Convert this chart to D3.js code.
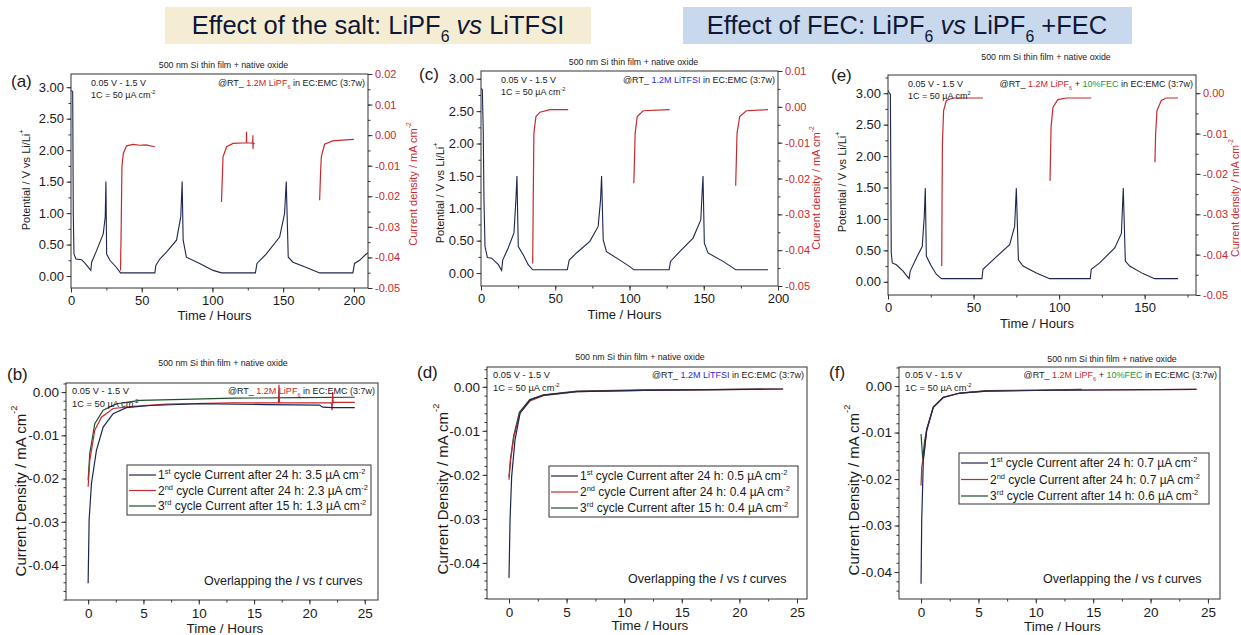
<!DOCTYPE html>
<html>
<head>
<meta charset="utf-8">
<script src="https://cdn.jsdelivr.net/npm/d3@7"></script>
<style>
  body { margin: 0; background: #fff; }
  text { font-family: Arial, "Liberation Sans", sans-serif; }
</style>
</head>
<body>
<div id="vis"></div>
<script>
// ---- data ----
// potential (V vs Li/Li+) against time (h), top panels
const potA = [[0,2.95],[1.2,2.93],[1.6,1.0],[2.1,0.35],[3.5,0.27],[7.5,0.26],[10,0.2],[14,0.09],[14.6,0.22],[18,0.4],[22.8,0.67],[24.2,0.94],[24.7,1.5],[25.2,0.35],[27.5,0.25],[32,0.14],[35,0.05],[59.3,0.05],[60,0.17],[62.8,0.27],[67.5,0.38],[74.6,0.57],[77.6,0.94],[78.6,1.5],[79.3,0.57],[81.6,0.3],[91,0.2],[100.5,0.09],[106.4,0.05],[130.4,0.05],[131.5,0.2],[138,0.35],[147.5,0.62],[151,0.99],[152.2,1.5],[153.6,0.3],[157,0.22],[166,0.14],[175.8,0.05],[199.3,0.05],[200.5,0.2],[204,0.25],[208.7,0.35],[211,0.38]];
const potC = [[0,2.85],[0.9,2.83],[1.5,2.2],[2,1.13],[2.7,0.41],[4.3,0.24],[7.2,0.23],[11.7,0.13],[13.9,0.04],[14.6,0.2],[18.4,0.39],[22.2,0.62],[23.5,1.13],[24.2,1.5],[25.1,0.41],[28.5,0.28],[31.8,0.13],[34.8,0.05],[58.1,0.05],[59.4,0.2],[64.3,0.31],[73.3,0.49],[78.9,0.72],[80.5,1.13],[81.2,1.5],[82.3,0.51],[84.5,0.33],[93.5,0.2],[100.2,0.1],[102.9,0.05],[126.7,0.05],[127.6,0.18],[133.8,0.33],[142.8,0.54],[148,0.82],[148.9,1.24],[149.5,1.5],[150.4,0.46],[152.9,0.31],[163,0.18],[169.7,0.08],[171.5,0.05],[193.3,0.05]];
const potE = [[0,3.04],[1.4,2.98],[1.9,0.46],[2.5,0.3],[4.9,0.27],[8.8,0.17],[11.1,0.09],[12.3,0.05],[13,0.17],[16.6,0.38],[20,0.56],[21.2,1.04],[21.8,1.49],[22.4,0.41],[25.3,0.25],[28.2,0.12],[31.2,0.05],[54.9,0.05],[55.5,0.2],[61.4,0.35],[71.1,0.59],[74,0.88],[75,1.49],[76.2,0.35],[78.9,0.25],[86.7,0.14],[94.5,0.05],[118.2,0.05],[118.8,0.2],[123.7,0.3],[132.5,0.54],[136.4,0.77],[137.5,1.49],[138.7,0.33],[141.2,0.25],[149,0.13],[155.8,0.05],[169.5,0.05]];

// current density (mA cm-2) during the potentiostatic holds, top panels
const curA1 = [[35,-0.0443],[35.5,-0.03],[36,-0.0104],[37,-0.006],[39.3,-0.0035],[44,-0.003],[48.7,-0.0033],[53,-0.0032],[59.3,-0.0038]];
const curA2 = [[106.4,-0.0219],[107,-0.014],[107.5,-0.0071],[110,-0.0038],[114.6,-0.0027],[124,-0.0025],[124.1,0.0011],[124.2,-0.0025],[128.5,-0.0026],[128.6,0.0],[128.7,-0.0045],[128.8,-0.0026],[129.9,-0.0028]];
const curA3 = [[175.8,-0.0213],[176.5,-0.012],[177,-0.007],[179.3,-0.003],[185,-0.0019],[192,-0.0016],[200,-0.0014]];
const curC1 = [[34.8,-0.0437],[35.2,-0.025],[35.6,-0.0074],[37,-0.0027],[39.7,-0.0015],[46.4,-0.0008],[58.7,-0.0008]];
const curC2 = [[102.9,-0.0213],[103.4,-0.014],[103.8,-0.0074],[105.2,-0.0027],[109.2,-0.0011],[127,-0.0008]];
const curC3 = [[171.5,-0.022],[172,-0.014],[172.4,-0.0074],[174.2,-0.0027],[178.7,-0.0011],[193.3,-0.0008]];
const curE1 = [[31.4,-0.0428],[31.6,-0.025],[31.8,-0.0126],[32.5,-0.0043],[34.1,-0.0018],[38,-0.0012],[55.5,-0.0012]];
const curE2 = [[94.7,-0.0217],[95,-0.015],[95.3,-0.0084],[96.4,-0.0035],[99.3,-0.0016],[104.2,-0.0012],[118.8,-0.0012]];
const curE3 = [[156,-0.0171],[156.4,-0.0101],[157.2,-0.0043],[159.7,-0.0018],[162.7,-0.0012],[169.5,-0.0012]];

// overlapped I vs t curves, bottom panels (1st, 2nd, 3rd cycle)
const curB1 = [[0,-0.0442],[0.09,-0.0296],[0.3,-0.0212],[0.75,-0.0135],[1.36,-0.0081],[2.26,-0.005],[3.46,-0.0036],[5.6,-0.0031],[10.1,-0.0027],[16.1,-0.0029],[20.9,-0.003],[21.2,-0.0035],[22.1,-0.0036],[24.1,-0.0036]];
const curB2 = [[0,-0.0219],[0.15,-0.0158],[0.6,-0.0088],[1.2,-0.0058],[2.26,-0.0038],[4.07,-0.0033],[7.1,-0.0028],[13.1,-0.0025],[17.2,-0.0025],[17.25,0.0017],[17.3,-0.0025],[19.1,-0.0025],[22.0,-0.0025],[22.05,-0.0042],[22.1,0.0],[22.15,-0.0024],[24.1,-0.0024]];
const curB3 = [[0,-0.0204],[0.15,-0.0142],[0.6,-0.0073],[1.36,-0.0042],[2.56,-0.0027],[4.67,-0.0019],[8.6,-0.0017],[13.1,-0.0014],[19.1,-0.0013],[24.1,-0.0012]];
const curD1 = [[0,-0.0434],[0.09,-0.0302],[0.23,-0.0204],[0.52,-0.0121],[0.96,-0.006],[1.83,-0.003],[2.98,-0.0019],[5.9,-0.0011],[11.7,-0.0008],[23.8,-0.0005]];
const curD2 = [[0,-0.0211],[0.14,-0.0166],[0.43,-0.0113],[0.96,-0.0059],[1.83,-0.0032],[2.98,-0.002],[5.9,-0.0011],[11.7,-0.0008],[23.8,-0.0005]];
const curD3 = [[0,-0.0205],[0.12,-0.0165],[0.4,-0.0112],[0.9,-0.0058],[1.8,-0.0029],[3.0,-0.0018],[5.9,-0.001],[11.7,-0.0007],[22,-0.0006]];
const curF1 = [[0,-0.0425],[0.06,-0.0289],[0.2,-0.016],[0.49,-0.0095],[1.07,-0.0045],[1.94,-0.0024],[3.4,-0.0015],[5.7,-0.0011],[11.5,-0.0009],[24,-0.0007]];
const curF2 = [[0,-0.0214],[0.06,-0.0174],[0.26,-0.0146],[0.49,-0.0096],[1.07,-0.0046],[1.94,-0.0025],[3.4,-0.0015],[5.7,-0.0011],[11.5,-0.0009],[24,-0.0007]];
const curF3 = [[0,-0.0103],[0.15,-0.0158],[0.3,-0.012],[0.5,-0.0092],[1.07,-0.0045],[1.94,-0.0024],[3.4,-0.0015],[5.7,-0.001],[11.5,-0.0008],[14,-0.0007]];

// legend values: hours and residual current (µA cm-2)
const cycleNames = ['1', '2', '3'];
const cycleSup = ['st', 'nd', 'rd'];
const hoursB = ['24', '24', '15'], valuesB = ['3.5', '2.3', '1.3'];
const hoursD = ['24', '24', '15'], valuesD = ['0.5', '0.4', '0.4'];
const hoursF = ['24', '24', '14'], valuesF = ['0.7', '0.7', '0.6'];

// tick labels
const potTicks = [0, 0.5, 1, 1.5, 2, 2.5, 3];
const rightTicksA = [0.02, 0.01, 0, -0.01, -0.02, -0.03, -0.04, -0.05];
const rightTicksC = [0.01, 0, -0.01, -0.02, -0.03, -0.04, -0.05];
const rightTicksE = [0, -0.01, -0.02, -0.03, -0.04, -0.05];
const timeTicksAC = [0, 50, 100, 150, 200];
const timeTicksE = [0, 50, 100, 150];
const timeTicksBot = [0, 5, 10, 15, 20, 25];
const curTicksBot = [0, -0.01, -0.02, -0.03, -0.04];

// ---- drawing ----
const RED = '#c8282e', BLUE = '#2b2bd6', GREEN = '#23963a';
const NAVY = '#1e2650', LINE_RED = '#c42a2f', LINE_GREEN = '#1f4f2b';

let svg = d3.select('#vis').append('svg')
  .attr('width', 1241).attr('height', 635)
  .style('display', 'block');

// text with tspans for sub/superscripts, colours, italics
function rich(t, parts, fs) {
  let shift = 0;
  parts.forEach(p => {
    if (typeof p === 'string') p = {t: p};
    let want = p.sub ? fs * 0.3 : p.sup ? -fs * 0.42 : 0;
    let ts = t.append('tspan').text(p.t).attr('dy', want - shift);
    shift = want;
    if (p.sub || p.sup) ts.attr('font-size', fs * 0.62);
    if (p.fill) ts.attr('fill', p.fill);
    if (p.it) ts.attr('font-style', 'italic');
  });
  return t;
}

function label(x, y, parts, fs, opts) {
  opts = opts || {};
  let t = svg.append('text').attr('x', x).attr('y', y)
    .attr('font-size', fs).attr('fill', opts.fill || '#1a1a1a');
  if (opts.anchor) t.attr('text-anchor', opts.anchor);
  if (opts.rot) t.attr('transform', `rotate(-90,${x},${y})`)
    .attr('text-anchor', 'middle').attr('dominant-baseline', 'central');
  return rich(t, parts, fs);
}

function fmt2(v) { return (Math.abs(v) < 1e-9 ? 0 : v).toFixed(2); }

function drawAxis(orient, scale, major, minor, format, pos, fs, color) {
  let mk = {left: d3.axisLeft, right: d3.axisRight, bottom: d3.axisBottom}[orient];
  let tr = orient === 'bottom' ? `translate(0,${pos})` : `translate(${pos},0)`;
  let gMin = svg.append('g').attr('transform', tr)
    .call(mk(scale).tickValues(minor).tickFormat('').tickSize(2.5));
  gMin.select('.domain').remove();
  gMin.selectAll('line').attr('stroke', '#333');
  let g = svg.append('g').attr('transform', tr)
    .call(mk(scale).tickValues(major).tickFormat(format).tickSizeInner(4.5).tickSizeOuter(0).tickPadding(orient === 'bottom' ? 3.5 : 2.5));
  g.select('.domain').remove();
  g.selectAll('line').attr('stroke', '#333');
  g.selectAll('text').attr('font-size', fs)
    .attr('font-family', 'Arial, "Liberation Sans", sans-serif').attr('fill', color || '#1a1a1a');
}

function rangeIn(dom, step) {
  let lo = Math.min(dom[0], dom[1]), hi = Math.max(dom[0], dom[1]);
  return d3.range(Math.ceil(lo / step - 1e-6) * step, hi + 1e-9, step);
}

function frame(o, id) {
  svg.append('clipPath').attr('id', id).append('rect')
    .attr('x', o.l).attr('y', o.t).attr('width', o.r - o.l).attr('height', o.b - o.t);
}

function box(o) {
  svg.append('rect').attr('x', o.l).attr('y', o.t).attr('width', o.r - o.l).attr('height', o.b - o.t)
    .attr('fill', 'none').attr('stroke', '#333').attr('stroke-width', 1);
}

// top panels: potential (left axis) + current density during holds (right axis)
function topPanel(o) {
  let x = d3.scaleLinear().domain(o.xDom).range([o.l, o.r]);
  let yL = d3.scaleLinear().domain(o.yL).range([o.b, o.t]);
  let yR = d3.scaleLinear().domain(o.yR).range([o.b, o.t]);
  frame(o, 'clip' + o.id);

  svg.append('path').datum(o.pot)
    .attr('clip-path', `url(#clip${o.id})`)
    .attr('d', d3.line().x(d => x(d[0])).y(d => yL(d[1])))
    .attr('fill', 'none').attr('stroke', NAVY).attr('stroke-width', 1.1);

  o.cur.forEach(seg => {
    svg.append('path').datum(seg)
      .attr('clip-path', `url(#clip${o.id})`)
      .attr('d', d3.line().x(d => x(d[0])).y(d => yR(d[1])))
      .attr('fill', 'none').attr('stroke', LINE_RED).attr('stroke-width', 1.2);
  });

  box(o);
  drawAxis('left', yL, potTicks, rangeIn(o.yL, 0.25), fmt2, o.l, 13);
  drawAxis('right', yR, o.rTicks, rangeIn(o.yR, 0.005), fmt2, o.r, 11, RED);
  drawAxis('bottom', x, o.xTicks, rangeIn(o.xDom, 25), d3.format('d'), o.b, 13);

  label(o.l + (o.r - o.l) / 2 + 4, o.titleY, ['500 nm Si thin film + native oxide'], 8.8, {anchor: 'middle'});
  label(o.panX, o.panY, [o.pan], 17);
  label(o.l + 20, o.t + 12, ['0.05 V - 1.5 V'], 9);
  label(o.l + 20, o.t + 24, ['1C = 50 \u00b5A cm', {t: o.cm, sup: true}], 9);
  label(o.r - 3, o.t + 12, o.rt, 9, {anchor: 'end'});
  label(o.ylX, o.ylY, ['Potential / V vs Li/Li', {t: '+', sup: true}], 11, {rot: true});
  label(o.yrX, o.yrY, ['Current density / mA cm', {t: '-2', sup: true}], o.yrFs || 11, {rot: true, fill: RED});
  label((o.l + o.r) / 2 - 5, o.xlY, ['Time / Hours'], 13, {anchor: 'middle'});
}

// bottom panels: the three holds overlapped
function botPanel(o) {
  let x = d3.scaleLinear().domain(o.xDom).range([o.l, o.r]);
  let y = d3.scaleLinear().domain(o.yDom).range([o.b, o.t]);
  frame(o, 'clip' + o.id);
  let colors = [NAVY, LINE_RED, LINE_GREEN];
  // draw 3rd, 2nd, 1st so the navy trace sits on top at the steep start
  [2, 1, 0].forEach(k => {
    svg.append('path').datum(o.series[k])
      .attr('clip-path', `url(#clip${o.id})`)
      .attr('d', d3.line().x(d => x(d[0])).y(d => y(d[1])))
      .attr('fill', 'none').attr('stroke', colors[k]).attr('stroke-width', 1.2);
  });

  box(o);
  drawAxis('left', y, curTicksBot, rangeIn(o.yDom, 0.002), fmt2, o.l, 13.5);
  drawAxis('bottom', x, timeTicksBot, rangeIn(o.xDom, 2.5), d3.format('d'), o.b, 13.5);

  label(o.titleX, o.titleY, ['500 nm Si thin film + native oxide'], 8.8, {anchor: 'middle'});
  label(o.panX, o.panY, [o.pan], 17);
  label(o.l + 6, o.t + 11, ['0.05 V - 1.5 V'], 9.3);
  label(o.l + 6, o.t + 24, ['1C = 50 \u00b5A cm', {t: '-2', sup: true}], 9.3);
  label(o.r - 3, o.t + 11, o.rt, 9, {anchor: 'end'});
  label(o.ylX, o.ylY, ['Current Density / mA cm', {t: '-2', sup: true}], 15, {rot: true});
  label((o.l + o.r) / 2 + 3, o.xlY, ['Time / Hours'], 13.5, {anchor: 'middle'});

  // legend
  let lg = o.leg;
  svg.append('rect').attr('x', lg.x).attr('y', lg.y).attr('width', lg.w).attr('height', lg.h)
    .attr('fill', '#fff').attr('stroke', '#333').attr('stroke-width', 1);
  cycleNames.forEach((c, k) => {
    let ry = lg.y + 10 + k * lg.dy;
    svg.append('line').attr('x1', lg.x + 2).attr('x2', lg.x + 29).attr('y1', ry).attr('y2', ry)
      .attr('stroke', colors[k]).attr('stroke-width', 1.2);
    label(lg.x + 31, ry + 4.3, [c, {t: cycleSup[k], sup: true},
      ` cycle Current after ${o.hours[k]} h: ${o.values[k]} \u00b5A cm`, {t: '-2', sup: true}], 12);
  });

  label(o.ovX, o.ovY, ['Overlapping the ', {t: 'I', it: true}, ' vs ', {t: 't', it: true}, '  curves'], 12.5);
}

// ---- headers ----
svg.append('rect').attr('x', 165).attr('y', 7).attr('width', 426).attr('height', 37).attr('fill', '#f4edd3');
svg.append('rect').attr('x', 683).attr('y', 7).attr('width', 449).attr('height', 37).attr('fill', '#c9d9ed');
label(378, 34, ['Effect of the salt: LiPF', {t: '6', sub: true}, ' ', {t: 'vs', it: true}, ' LiTFSI'], 25.5, {anchor: 'middle', fill: '#0f1736'});
label(907, 34, ['Effect of FEC: LiPF', {t: '6', sub: true}, ' ', {t: 'vs', it: true}, ' LiPF', {t: '6', sub: true}, ' +FEC'], 25.5, {anchor: 'middle', fill: '#0f1736'});

const rtLiPF6 = ['@RT_  ', {t: '1.2M LiPF', fill: RED}, {t: '6', sub: true, fill: RED}, ' in EC:EMC (3:7w)'];
const rtLiTFSI = ['@RT_  ', {t: '1.2M LiTFSI', fill: BLUE}, ' in EC:EMC (3:7w)'];
const rtFEC = ['@RT_  ', {t: '1.2M LiPF', fill: RED}, {t: '6', sub: true, fill: RED}, ' + ', {t: '10%FEC', fill: GREEN}, ' in EC:EMC (3:7w)'];

topPanel({id: 'a', l: 71, r: 368, t: 74, b: 288, xDom: [0, 210], yL: [-0.19, 3.21], yR: [-0.05, 0.02],
  pot: potA, cur: [curA1, curA2, curA3], rTicks: rightTicksA, xTicks: timeTicksAC,
  titleY: 68, pan: '(a)', panX: 11, panY: 87, cm: '-2', rt: rtLiPF6,
  ylX: 26, ylY: 180, yrX: 413, yrY: 184, xlY: 320});
topPanel({id: 'c', l: 481, r: 778, t: 71, b: 286, xDom: [0, 200], yL: [-0.2, 3.12], yR: [-0.05, 0.01],
  pot: potC, cur: [curC1, curC2, curC3], rTicks: rightTicksC, xTicks: timeTicksAC,
  titleY: 65, pan: '(c)', panX: 419, panY: 80, cm: '-2', rt: rtLiTFSI,
  ylX: 440, ylY: 193, yrX: 816, yrY: 188, xlY: 319});
topPanel({id: 'e', l: 888, r: 1196, t: 75, b: 295, xDom: [0, 180], yL: [-0.21, 3.29], yR: [-0.05, 0.0045],
  pot: potE, cur: [curE1, curE2, curE3], rTicks: rightTicksE, xTicks: timeTicksE,
  titleY: 60, pan: '(e)', panX: 831, panY: 81, cm: '2', rt: rtFEC,
  ylX: 842, ylY: 182, yrX: 1234.5, yrY: 198, yrFs: 10.5, xlY: 328});

botPanel({id: 'b', l: 66, r: 378, t: 383, b: 600, xDom: [-2, 26.2], yDom: [-0.0481, 0.0021],
  series: [curB1, curB2, curB3], hours: hoursB, values: valuesB, rt: rtLiPF6,
  titleX: 223, titleY: 366, pan: '(b)', panX: 7, panY: 380, ylX: 20, ylY: 491, xlY: 633,
  leg: {x: 127, y: 465, w: 244, h: 50, dy: 15.5}, ovX: 204, ovY: 585});
botPanel({id: 'd', l: 487, r: 807, t: 367, b: 599, xDom: [-1.91, 25.87], yDom: [-0.0482, 0.0045],
  series: [curD1, curD2, curD3], hours: hoursD, values: valuesD, rt: rtLiTFSI,
  titleX: 640, titleY: 360, pan: '(d)', panX: 417, panY: 378, ylX: 442, ylY: 489, xlY: 630,
  leg: {x: 549, y: 466, w: 249, h: 51, dy: 16}, ovX: 628, ovY: 583});
botPanel({id: 'f', l: 899, r: 1220, t: 367, b: 599, xDom: [-1.92, 26.05], yDom: [-0.0458, 0.0041],
  series: [curF1, curF2, curF3], hours: hoursF, values: valuesF, rt: rtFEC,
  titleX: 1112, titleY: 362, pan: '(f)', panX: 829, panY: 378, ylX: 853, ylY: 490, xlY: 631,
  leg: {x: 959, y: 453, w: 250, h: 51, dy: 16.5}, ovX: 1043, ovY: 583});
</script>
</body>
</html>
